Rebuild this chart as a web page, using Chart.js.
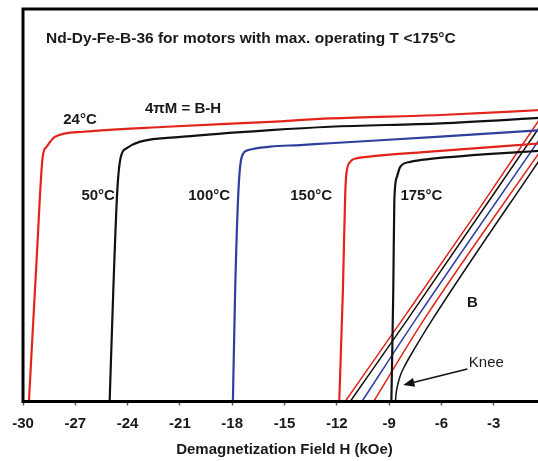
<!DOCTYPE html>
<html>
<head>
<meta charset="utf-8">
<script src="https://cdn.jsdelivr.net/npm/chart.js@4.4.1/dist/chart.umd.min.js"></script>
<style>
  html, body { margin: 0; padding: 0; background: #fff; overflow: hidden; }
  #wrap { width: 538px; height: 461px; overflow: hidden; position: relative; }
  #box { position: absolute; left: 0; top: 0; width: 560px; height: 461px; }
</style>
</head>
<body>
<div id="wrap"><div id="box"><canvas id="chart" width="560" height="461"></canvas></div></div>
<script>
// Demagnetization field H (kOe) vs intrinsic 4piM and B (kG)

const temps = ['24°C', '50°C', '100°C', '150°C', '175°C'];
const xTicks = [-30, -27, -24, -21, -18, -15, -12, -9, -6, -3, 0];

// 4piM curves
const j24H = [-29.66, -29.21, -28.87, -28.64, -28.16, -26.54, -21.75, -15.82, -12.38, -6.06, 0];
const j24M = [0, 5.53, 9.35, 9.74, 10.12, 10.31, 10.50, 10.69, 10.82, 10.95, 11.15];
const j50H = [-25.03, -24.82, -24.59, -24.39, -24.05, -23.28, -20.8, -15.82, -12.38, -6.06, 0];
const j50M = [0, 4.26, 8.08, 9.35, 9.68, 9.93, 10.12, 10.37, 10.5, 10.63, 10.85];
const j100H = [-17.96, -17.83, -17.64, -17.45, -17.07, -15.82, -14.1, -12.38, -6.06, 0];
const j100M = [0, 4.26, 8.08, 9.35, 9.61, 9.74, 9.80, 9.87, 10.12, 10.38];
const j150H = [-11.86, -11.65, -11.52, -11.46, -11.23, -10.83, -10.27, -6.64, 0];
const j150M = [0, 4.26, 7.83, 8.65, 9.16, 9.30, 9.35, 9.55, 9.88];
const j175H = [-8.87, -8.76, -8.70, -8.55, -8.36, -7.78, -6.64, 0];
const j175M = [0, 4.26, 7.70, 8.59, 8.97, 9.16, 9.27, 9.6];

// B curves
const b24H = [-11.52, -8.26, -3.77, 0];
const b24B = [0, 3.11, 7.43, 11.15];
const b50H = [-11.23, -7.97, 0];
const b50B = [0, 3.11, 10.85];
const b100H = [-10.56, -7.50, 0];
const b100B = [0, 3.11, 10.38];
const b150H = [-9.89, -7.02, 0];
const b150B = [0, 3.11, 9.88];
const b175H = [-8.64, -8.60, -8.52, -8.38, -8.15, -7.60, -6.54, 0];
const b175B = [0, 0.30, 0.60, 0.95, 1.30, 1.95, 3.11, 9.6];

const RED = '#e3241b';
const BLACK = '#111111';
const BLUE = '#2f3f9e';
const colors = [RED, BLACK, BLUE, RED, BLACK];

const FONT = '"Liberation Sans", Arial, sans-serif';

function pts(xs, ys) {
    return xs.map((x, i) => ({ x, y: ys[i] }));
}

const jCurves = [[j24H, j24M], [j50H, j50M], [j100H, j100M], [j150H, j150M], [j175H, j175M]];
const bCurves = [[b24H, b24B], [b50H, b50B], [b100H, b100B], [b150H, b150B], [b175H, b175B]];

const datasets = [];
jCurves.forEach(([h, m], i) => {
    datasets.push({
        label: '4πM ' + temps[i],
        data: pts(h, m),
        borderColor: colors[i],
        borderWidth: 2.2,
        cubicInterpolationMode: 'monotone'
    });
});
bCurves.forEach(([h, b], i) => {
    datasets.push({
        label: 'B ' + temps[i],
        data: pts(h, b),
        borderColor: colors[i],
        borderWidth: 1.5,
        cubicInterpolationMode: 'monotone'
    });
});

// text labels placed in data coordinates (H, kG)
const notes = [
    { text: '24°C', h: -26.73, v: 10.76, bold: true },
    { text: '4πM = B-H', h: -20.82, v: 11.18, bold: true },
    { text: '50°C', h: -25.69, v: 7.85, bold: true },
    { text: '100°C', h: -19.32, v: 7.85, bold: true },
    { text: '150°C', h: -13.47, v: 7.85, bold: true },
    { text: '175°C', h: -7.15, v: 7.85, bold: true },
    { text: 'B', h: -4.22, v: 3.76, bold: true },
    { text: 'Knee', h: -3.42, v: 1.47, bold: false }
];
const arrowFrom = { h: -4.51, v: 1.24 };
const arrowTo = { h: -8.19, v: 0.63 };

const framePlugin = {
    id: 'frame',
    afterDatasetsDraw(chart) {
        const { ctx, chartArea: a, scales: { x, y } } = chart;
        ctx.save();

        // box round the plot
        ctx.strokeStyle = '#000';
        ctx.lineWidth = 3;
        ctx.strokeRect(a.left, a.top, a.right - a.left, a.bottom - a.top);

        // title inside the box
        ctx.fillStyle = '#1a1a1a';
        ctx.textBaseline = 'middle';
        ctx.textAlign = 'left';
        ctx.font = 'bold 15.5px ' + FONT;
        ctx.fillText('Nd-Dy-Fe-B-36 for motors with max. operating T <175°C', a.left + 23, a.top + 30);

        // curve labels
        ctx.textAlign = 'center';
        notes.forEach(n => {
            ctx.font = (n.bold ? 'bold ' : '') + '15px ' + FONT;
            ctx.fillText(n.text, x.getPixelForValue(n.h), y.getPixelForValue(n.v));
        });

        // knee arrow
        const x1 = x.getPixelForValue(arrowFrom.h), y1 = y.getPixelForValue(arrowFrom.v);
        const x2 = x.getPixelForValue(arrowTo.h), y2 = y.getPixelForValue(arrowTo.v);
        const ang = Math.atan2(y2 - y1, x2 - x1);
        ctx.strokeStyle = '#111';
        ctx.lineWidth = 1.5;
        ctx.beginPath();
        ctx.moveTo(x1, y1);
        ctx.lineTo(x2 - 6 * Math.cos(ang), y2 - 6 * Math.sin(ang));
        ctx.stroke();
        ctx.fillStyle = '#111';
        ctx.beginPath();
        ctx.moveTo(x2, y2);
        ctx.lineTo(x2 - 12 * Math.cos(ang - 0.38), y2 - 12 * Math.sin(ang - 0.38));
        ctx.lineTo(x2 - 12 * Math.cos(ang + 0.38), y2 - 12 * Math.sin(ang + 0.38));
        ctx.closePath();
        ctx.fill();

        ctx.restore();
    }
};

const ctx = document.getElementById('chart').getContext('2d');
new Chart(ctx, {
    type: 'line',
    data: { datasets },
    options: {
        responsive: false,
        animation: false,
        devicePixelRatio: 1,
        layout: { padding: { top: 9, left: 23, right: 14, bottom: 0 } },
        elements: { point: { radius: 0 } },
        plugins: {
            legend: { display: false },
            tooltip: { enabled: false }
        },
        scales: {
            x: {
                type: 'linear',
                min: -30,
                max: 0,
                afterBuildTicks: (scale) => { scale.ticks = xTicks.map(v => ({ value: v })); },
                afterFit: (scale) => { scale.height = 59.5; },
                border: { display: false },
                grid: { drawOnChartArea: false, drawTicks: true, tickLength: 4, tickColor: '#555', tickWidth: 1.5 },
                ticks: {
                    padding: 9,
                    color: '#1a1a1a',
                    font: { family: FONT, size: 15, weight: 'bold' }
                },
                title: {
                    display: true,
                    text: 'Demagnetization Field H (kOe)',
                    color: '#1a1a1a',
                    font: { family: FONT, size: 15, weight: 'bold' },
                    padding: { top: 4, bottom: 2 }
                }
            },
            y: {
                display: false,
                min: 0,
                max: 15
            }
        }
    },
    plugins: [framePlugin]
});
</script>
</body>
</html>
